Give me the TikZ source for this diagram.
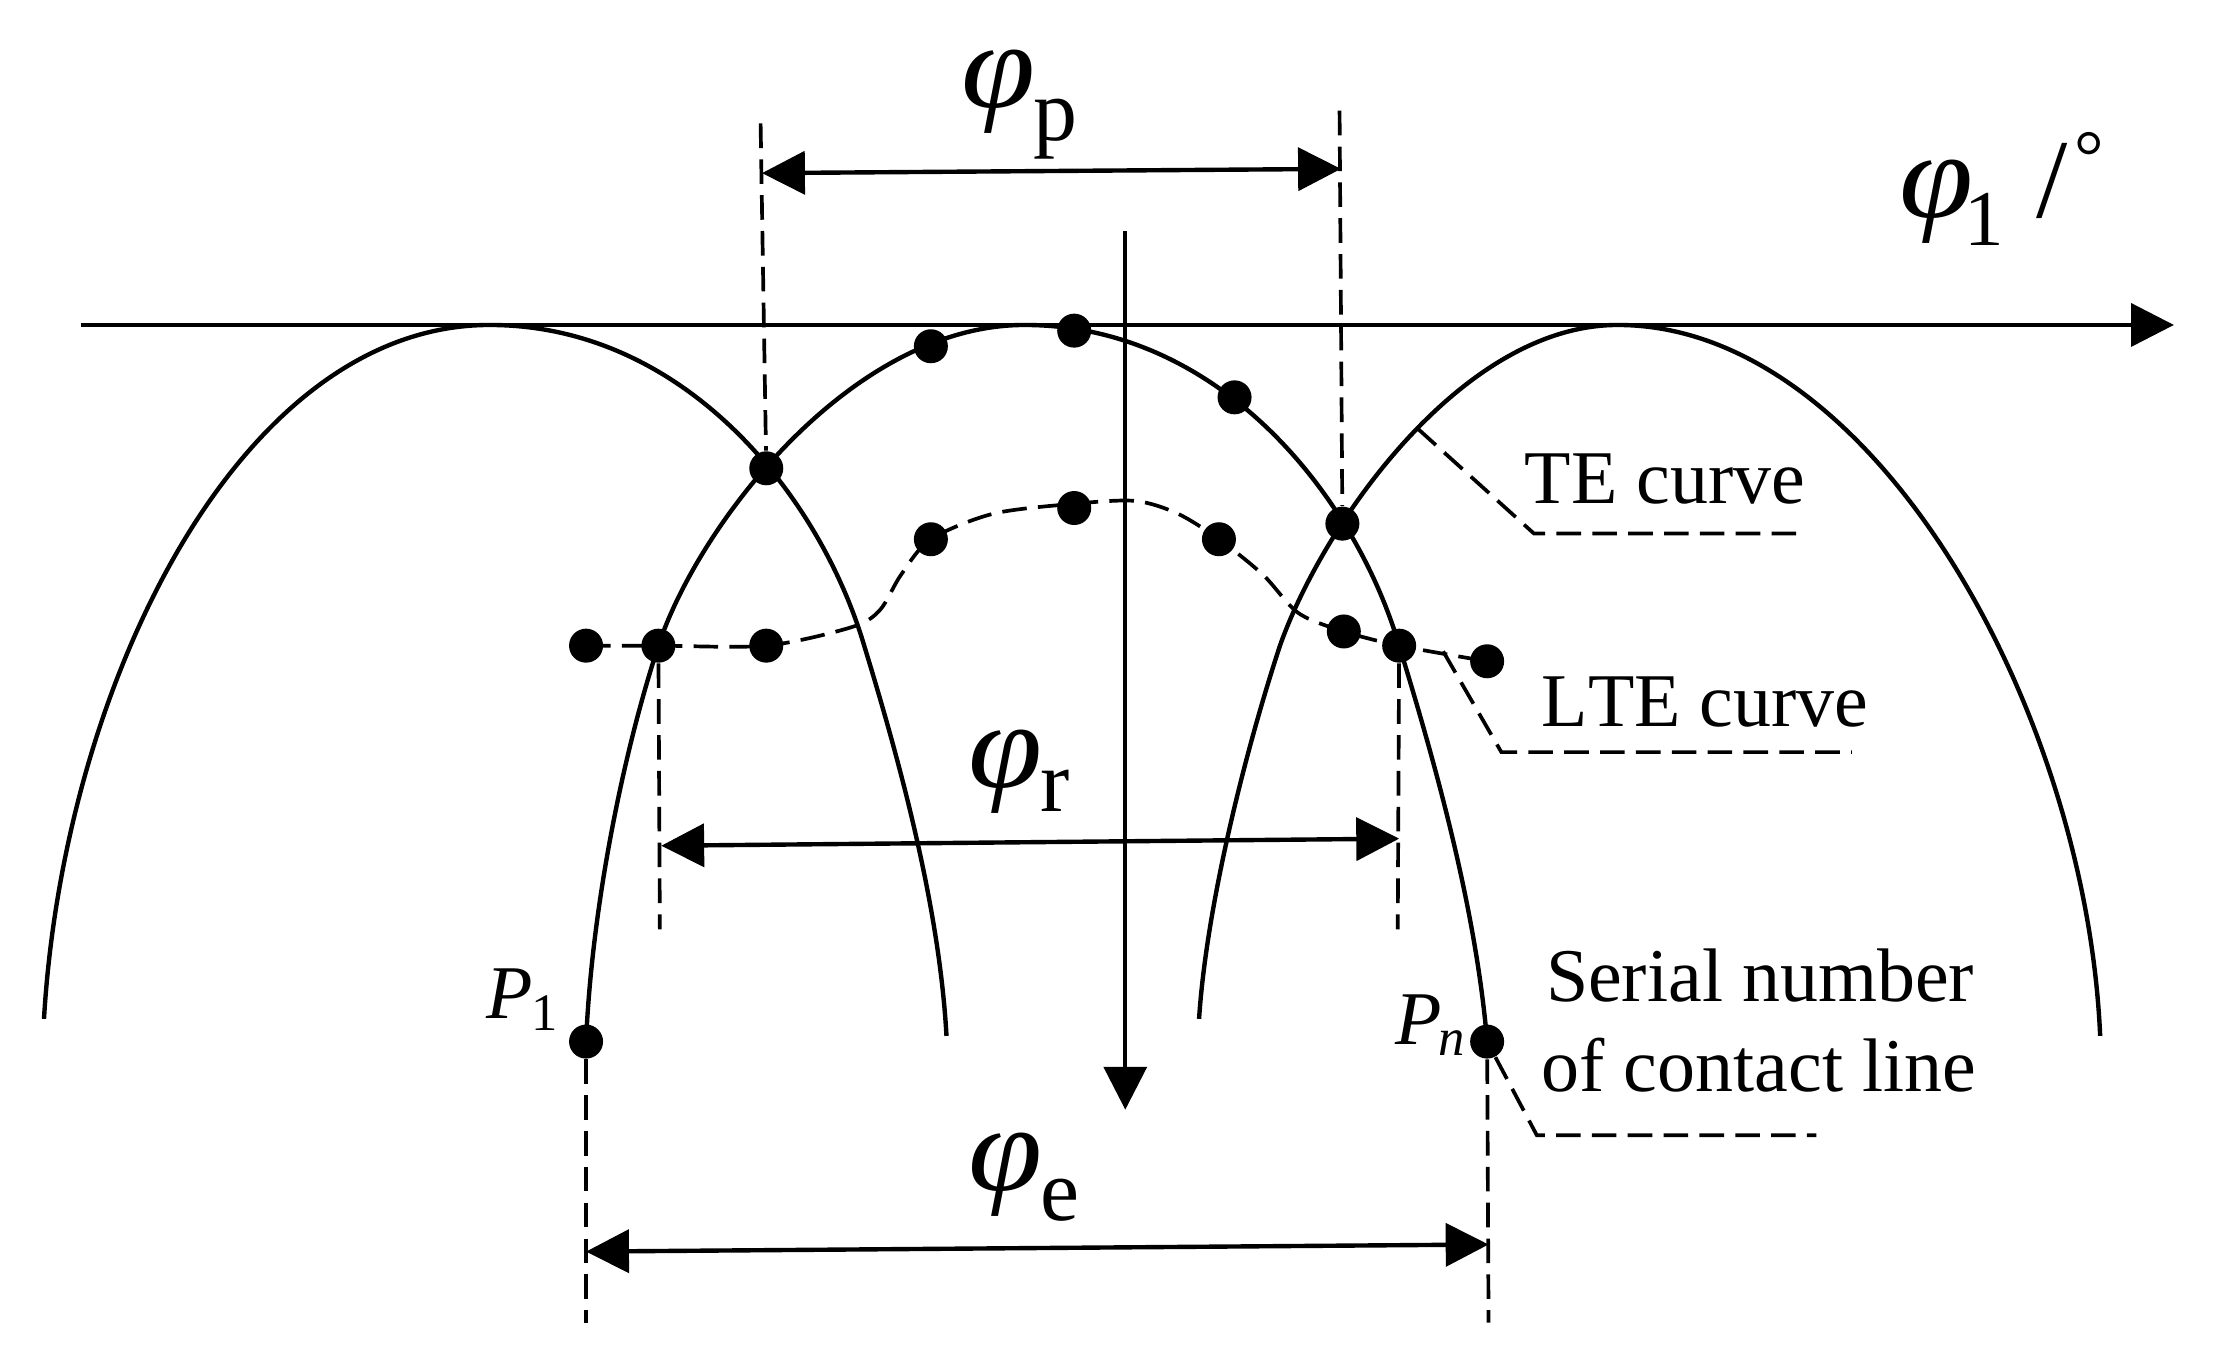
\documentclass[tikz,border=0pt]{standalone}
\usepackage{fontspec}
\setmainfont{Liberation Serif}
\usetikzlibrary{arrows.meta}
\tikzset{
  dotnode/.style={circle,fill=black,draw=none,inner sep=0pt,minimum size=0.34cm},
  curveline/.style={line width=1.25pt,line join=round},
  dashline/.style={line width=1.05pt,dash pattern=on 7pt off 3.2pt},
  thinaxis/.style={line width=1.15pt},
  tip/.style={-{Triangle[length=12.2pt,width=12.2pt]}},
  dimline/.style={line width=1.25pt,{Triangle[length=12.2pt,width=12.2pt]}-{Triangle[length=12.2pt,width=12.2pt]}},
  lab/.style={inner sep=0pt,anchor=base west,font=\fontsize{21.6}{24}\selectfont},
  sym/.style={inner sep=0pt,anchor=base west}
}
\newcommand{\bigsym}[3]{\scalebox{1.12}[1.02]{\fontsize{34}{34}\selectfont\itshape φ}\hspace{#3pt}\raisebox{#2pt}{\fontsize{25}{25}\selectfont #1}}
\begin{document}
\begin{tikzpicture}[x=0.01419cm,y=-0.01419cm]
\useasboundingbox (0,0) rectangle (1568,966.2);
% dots
\node[dotnode] (a1) at (413,455) {};
\node[dotnode] (a2) at (464,455) {};
\node[dotnode] (a3) at (540,455) {};
\node[dotnode] (a4) at (656,380) {};
\node[dotnode] (a5) at (757,358) {};
\node[dotnode] (a6) at (859,380) {};
\node[dotnode] (a7) at (947,445) {};
\node[dotnode] (a8) at (986,455) {};
\node[dotnode] (a9) at (1048,466) {};
\node[dotnode] (t1) at (540,330) {};
\node[dotnode] (t2) at (656,244) {};
\node[dotnode] (t3) at (757,233) {};
\node[dotnode] (t4) at (870,280) {};
\node[dotnode] (t5) at (946,369) {};
\node[dotnode] (p1) at (413,734) {};
\node[dotnode] (pn) at (1048,734) {};
% free ends
\coordinate (xs) at (57,229);
\coordinate (xe) at (1532,229);
\coordinate (ys) at (793,163);
\coordinate (ye) at (793,782);
\coordinate (pL) at (537,122);
\coordinate (pR) at (945,119);
\coordinate (pLt) at (536,87);
\coordinate (pRt) at (944,78);
\coordinate (rL) at (466,596);
\coordinate (rR) at (986,591);
\coordinate (rLb) at (465,655);
\coordinate (rRb) at (985,655);
\coordinate (eL) at (413,882);
\coordinate (eR) at (1049,877);
\coordinate (eLb) at (413,932);
\coordinate (eRb) at (1049,932);
% axes
\draw[thinaxis,tip] (xs) -- (xe);
\draw[thinaxis,tip] (ys) -- (ye);
% TE curves
\draw[curveline] (31,718) .. controls (45,480) and (170,229) .. (345,229)
  .. controls (483,229) and (578,350) .. (609,455)
  .. controls (635,540) and (662,640) .. (667,730);
\draw[curveline] (413,734) .. controls (417,640) and (439,531) .. (464,455)
  .. controls (492,370) and (600,229) .. (722,229)
  .. controls (860,229) and (955,350) .. (986,455)
  .. controls (1012,540) and (1040,640) .. (1048,734);
\draw[curveline] (845,718) .. controls (850,640) and (877,531) .. (902,455)
  .. controls (932,370) and (1030,229) .. (1140,229)
  .. controls (1320,229) and (1470,500) .. (1480,730);
% LTE curve
\draw[dashline] plot[smooth,tension=0.5] coordinates {(413,455) (464,455) (540,455) (600,442) (620,430) (635,405) (656,380) (700,362) (757,355) (800,353) (830,362) (859,380) (890,405) (915,432) (947,445) (986,455) (1048,466)};
% dimension guides
\draw[dashline] (pLt) -- (t1);
\draw[dashline] (pRt) -- (t5);
\draw[dashline] (a2) -- (rLb);
\draw[dashline] (a8) -- (rRb);
\draw[dashline] (p1) -- (eLb);
\draw[dashline] (pn) -- (eRb);
% dimension arrows
\draw[dimline] (pL) -- (pR);
\draw[dimline] (rL) -- (rR);
\draw[dimline] (eL) -- (eR);
% leaders
\coordinate (teS) at (999,302); \coordinate (teC) at (1081,376); \coordinate (teE) at (1270,376);
\coordinate (lteS) at (1017,459); \coordinate (lteC) at (1058,530); \coordinate (lteE) at (1305,530);
\coordinate (snC) at (1083,800); \coordinate (snE) at (1280,800);
\draw[dashline] (teS) -- (teC) -- (teE);
\draw[dashline] (lteS) -- (lteC) -- (lteE);
\draw[dashline] (pn) -- (snC) -- (snE);
% labels
\node[sym] (lp) at (677,76) {\bigsym{p}{-9.4}{-0.5}};
\node[sym] (lr) at (682,555) {\bigsym{r}{-6.8}{-0.5}};
\node[sym] (le) at (682,838.6) {\bigsym{e}{-8.6}{-0.5}};
\node[sym] (lphi) at (1338,153) {\bigsym{\fontsize{22.5}{23}\selectfont 1}{-8.2}{-2.6}\hspace{9.2pt}{\fontsize{32}{32}\selectfont /}\hspace{2pt}\raisebox{10pt}{\fontsize{21}{21}\selectfont °}};
\node[lab] (lte) at (1074,355) {TE curve};
\node[lab] (llte) at (1086,512) {L\kern0pt TE curve};
\node[lab] (ls1) at (1089,706) {Serial number};
\node[lab] (ls2) at (1086,769.5) {of contact line};
\node[lab] (lp1) at (342.6,717.6) {\itshape P\hspace{-0.5pt}\raisebox{-3.4pt}{\upshape\fontsize{15}{15}\selectfont 1}};
\node[lab] (lpn) at (982.6,736) {\itshape P\hspace{-0.8pt}\raisebox{-3.2pt}{\fontsize{15}{15}\selectfont n}};
\end{tikzpicture}
\end{document}
